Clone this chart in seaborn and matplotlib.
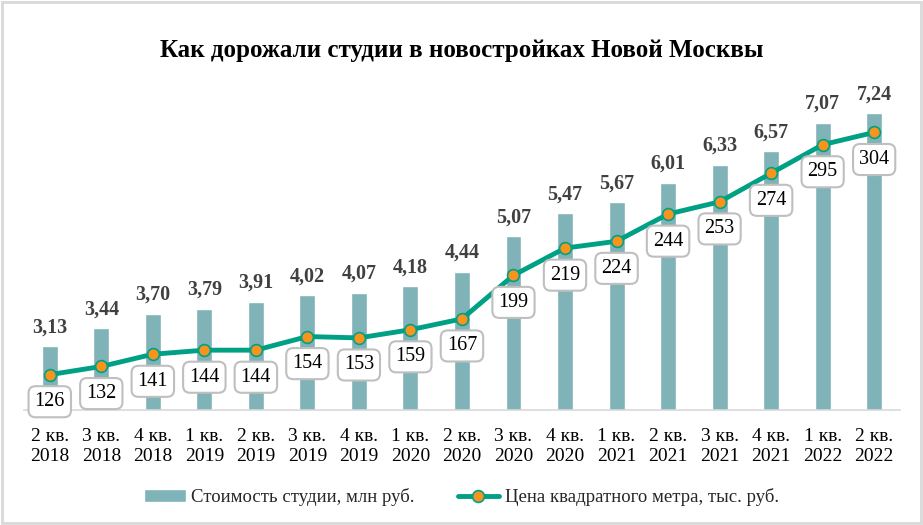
import matplotlib
matplotlib.use("Agg")
import matplotlib.pyplot as plt
import seaborn as sns
import pandas as pd
import numpy as np
from matplotlib.patches import Rectangle

quarters = ["2 кв.\n2018", "3 кв.\n2018", "4 кв.\n2018", "1 кв.\n2019", "2 кв.\n2019",
            "3 кв.\n2019", "4 кв.\n2019", "1 кв.\n2020", "2 кв.\n2020", "3 кв.\n2020",
            "4 кв.\n2020", "1 кв.\n2021", "2 кв.\n2021", "3 кв.\n2021", "4 кв.\n2021",
            "1 кв.\n2022", "2 кв.\n2022"]
studio_price = [3.13, 3.44, 3.70, 3.79, 3.91, 4.02, 4.07, 4.18, 4.44, 5.07,
                5.47, 5.67, 6.01, 6.33, 6.57, 7.07, 7.24]
sqm_price = [126, 132, 141, 144, 144, 154, 153, 159, 167, 199,
             219, 224, 244, 253, 274, 295, 304]

bar_label = "Стоимость студии, млн руб."
line_label = "Цена квадратного метра, тыс. руб."

sns.set_theme(style="white")
plt.rcParams["font.family"] = ["Liberation Serif", "DejaVu Serif"]

BAR_C = "#7FB3B7"
LINE_C = "#00A085"
MARK_C = "#F7941D"

df = pd.DataFrame({"q": quarters, "studio": studio_price, "sqm": sqm_price,
                   "pos": np.arange(len(quarters))})

fig = plt.figure(figsize=(9.23, 5.25), dpi=100)
ax = fig.add_axes([0.026, 0.219, 0.949, 0.648])

sns.barplot(data=df, x="q", y="studio", color=BAR_C, width=0.31, ax=ax,
            saturation=1, label=bar_label)
ax.set_ylim(2.0, 8.0)
ax.set_xlim(-0.5, len(quarters) - 0.5)
ax.set_xlabel("")
ax.set_ylabel("")
ax.set_yticks([])
for s in ["top", "right", "left"]:
    ax.spines[s].set_visible(False)
ax.spines["bottom"].set_color("#D9D9D9")
ax.spines["bottom"].set_linewidth(1.2)
ax.tick_params(axis="x", length=0, labelsize=14, pad=13, colors="black")
for lbl in ax.get_xticklabels():
    lbl.set_linespacing(1.2)

for i, v in enumerate(studio_price):
    ax.annotate(f"{v:.2f}".replace(".", ","), (i, v), xytext=(0, 13.5),
                textcoords="offset points", ha="center", va="center",
                fontsize=14.5, fontweight="bold", color="#404040")

ax2 = ax.twinx()
sns.lineplot(data=df, x="pos", y="sqm", ax=ax2, color=LINE_C, linewidth=3.5,
             marker="o", markersize=8.5, markerfacecolor=MARK_C,
             markeredgecolor=LINE_C, markeredgewidth=1.2, label=line_label,
             legend=False)
ax2.set_ylim(100, 350)
ax2.set_xlim(-0.5, len(quarters) - 0.5)
ax2.set_yticks([])
ax2.set_xlabel("")
ax2.set_ylabel("")
for s in ["top", "right", "left", "bottom"]:
    ax2.spines[s].set_visible(False)

for i, v in enumerate(sqm_price):
    ax2.annotate(f"{v}", (i, v), xytext=(0, -19.5), textcoords="offset points",
                 ha="center", va="center", fontsize=14.5, color="black",
                 bbox=dict(boxstyle="round,pad=0.3,rounding_size=0.35",
                           fc="white", ec="#BFBFBF", lw=1.5))

fig.text(0.5, 0.903, "Как дорожали студии в новостройках Новой Москвы",
         ha="center", va="center", fontsize=18, fontweight="bold", color="black")

h1, l1 = ax.get_legend_handles_labels()
h2, l2 = ax2.get_legend_handles_labels()
if ax.get_legend() is not None:
    ax.get_legend().remove()
fig.legend(h1 + h2, l1 + l2, loc="center", bbox_to_anchor=(0.5, 0.053), ncol=2,
           frameon=False, prop={"family": "Liberation Serif", "size": 13.5},
           handlelength=2.2, columnspacing=2.3, handletextpad=0.3)

fig.patches.append(Rectangle((0.002, 0.003), 0.996, 0.994, transform=fig.transFigure,
                             fill=False, ec="#D9D9D9", lw=2))

fig.savefig("out.png", dpi=100, facecolor="white")
